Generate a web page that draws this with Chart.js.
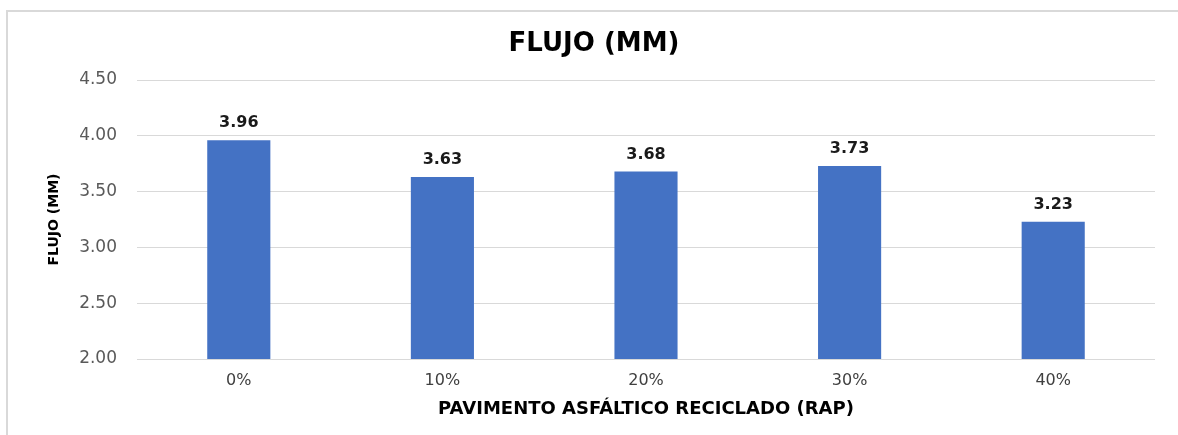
<!DOCTYPE html>
<html>
<head>
<meta charset="utf-8">
<script src="https://cdn.jsdelivr.net/npm/chart.js@4.4.0/dist/chart.umd.min.js"></script>
<style>
    html, body { margin: 0; background: #fff; overflow: hidden; }
    #wrap { position: relative; width: 1178px; height: 435px; overflow: hidden; }
    .line { position: absolute; background: #d9d9d9; }
    #topLine { left: 6px; top: 10px; width: 1172px; height: 2px; }
    #leftLine { left: 6px; top: 10px; width: 2px; height: 425px; }
    canvas { position: absolute; left: 0; top: 0; }
</style>
</head>
<body>
<div id="wrap">
    <div class="line" id="topLine"></div>
    <div class="line" id="leftLine"></div>
    <canvas id="flujoChart" width="1178" height="435"></canvas>
</div>
<script>
const categories = ['0%', '10%', '20%', '30%', '40%'];
const flujo = [3.96, 3.63, 3.68, 3.73, 3.23];
const yTicks = [2.00, 2.50, 3.00, 3.50, 4.00, 4.50];
const chartTitle = 'FLUJO (MM)';

const chartFont = "'DejaVu Sans', sans-serif";

// chart title + value labels above each bar
const barLabels = {
    id: 'barLabels',
    afterDraw(chart) {
        const ctx = chart.ctx;
        const meta = chart.getDatasetMeta(0);
        ctx.save();
        ctx.textAlign = 'center';
        ctx.textBaseline = 'middle';
        ctx.fillStyle = '#000';
        ctx.font = "bold 26px " + chartFont;
        ctx.fillText(chartTitle, 594, 44);
        ctx.font = "bold 16px " + chartFont;
        ctx.fillStyle = '#1a1a1a';
        meta.data.forEach(function (bar, i) {
            ctx.fillText(flujo[i].toFixed(2), bar.x, bar.y - 17);
        });
        ctx.restore();
    }
};

const ctx = document.getElementById('flujoChart').getContext('2d');
new Chart(ctx, {
    type: 'bar',
    data: {
        labels: categories,
        datasets: [{
            label: chartTitle,
            data: flujo,
            backgroundColor: '#4472C4',
            borderWidth: 0,
            categoryPercentage: 1,
            barPercentage: 0.31
        }]
    },
    options: {
        responsive: false,
        animation: false,
        layout: { padding: { left: 0, right: 23, top: 80, bottom: 0 } },
        scales: {
            y: {
                min: 2,
                max: 4.5,
                afterBuildTicks: function (scale) {
                    scale.ticks = yTicks.map(v => ({ value: v }));
                },
                afterFit: function (scale) { scale.width = 137; },
                border: { display: false },
                grid: { color: '#d9d9d9', lineWidth: 1, drawTicks: false },
                ticks: {
                    padding: 20,
                    color: '#595959',
                    font: { family: chartFont, size: 17 },
                    callback: v => Number(v).toFixed(2)
                },
                title: {
                    display: true,
                    text: chartTitle,
                    color: '#000',
                    font: { family: chartFont, size: 14, weight: 'bold' },
                    padding: { top: 46, bottom: 0 }
                }
            },
            x: {
                afterFit: function (scale) { scale.height = 76; },
                border: { display: false },
                grid: { display: false, drawTicks: false },
                ticks: {
                    padding: 12,
                    color: '#404040',
                    font: { family: chartFont, size: 16 }
                },
                title: {
                    display: true,
                    text: 'PAVIMENTO ASFÁLTICO RECICLADO (RAP)',
                    color: '#000',
                    font: { family: chartFont, size: 18, weight: 'bold' },
                    padding: { top: 0, bottom: 15 }
                }
            }
        },
        plugins: {
            legend: { display: false },
            tooltip: { enabled: false },
            title: { display: false }
        }
    },
    plugins: [barLabels]
});
</script>
</body>
</html>
